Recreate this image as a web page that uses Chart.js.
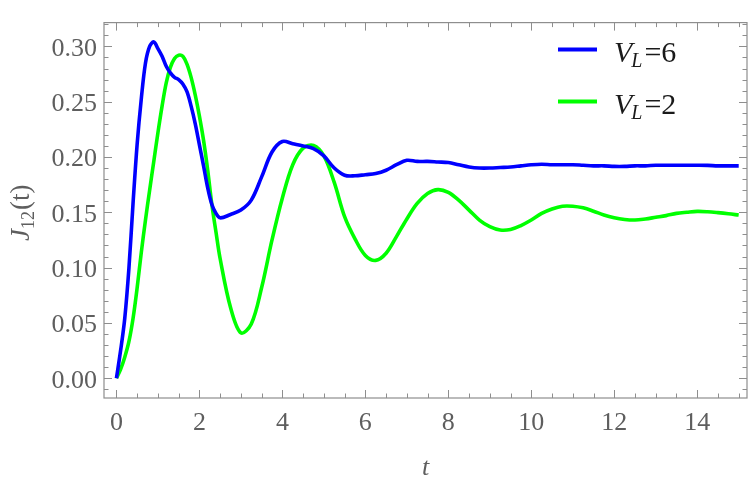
<!DOCTYPE html>
<html><head><meta charset="utf-8">
<script src="https://cdn.jsdelivr.net/npm/chart.js@4.4.0/dist/chart.umd.min.js"></script>
<style>html,body{margin:0;padding:0;background:#fff;}#wrap{width:750px;height:486px;}</style>
</head><body><div id="wrap"><canvas id="c" width="750" height="486"></canvas></div>
<script>
// time grid
const tValues = [0,0.1,0.2,0.3,0.4,0.5,0.6,0.7,0.8,0.9,1.0,1.1,1.2,1.3,1.4,1.5,1.6,1.7,1.8,1.9,2.0,2.1,2.2,2.3,2.4,2.5,
  2.75,3.0,3.25,3.5,3.75,4.0,4.25,4.5,4.75,5.0,5.25,5.5,5.75,6.0,6.25,6.5,6.75,7.0,7.25,7.5,7.75,8.0,8.25,8.5,8.75,
  9.0,9.25,9.5,9.75,10.0,10.25,10.5,10.75,11.0,11.25,11.5,11.75,12.0,12.25,12.5,12.75,13.0,13.25,13.5,13.75,14.0,14.25,14.5,14.75,15.0];
// J12(t) for V_L = 6
const jVL6 = [0,0.025,0.054,0.099,0.158,0.212,0.253,0.285,0.300,0.304,0.298,0.291,0.282,0.276,0.272,0.270,0.266,0.259,0.246,0.230,0.211,0.192,0.172,0.157,0.149,0.145,
  0.148,0.152,0.161,0.182,0.2045,0.214,0.212,0.210,0.2075,0.201,0.190,0.1835,0.183,0.184,0.185,0.188,0.193,0.197,0.196,0.196,0.1955,0.195,0.193,0.191,0.190,
  0.190,0.1905,0.191,0.192,0.193,0.1935,0.193,0.193,0.193,0.1925,0.192,0.192,0.1915,0.1915,0.192,0.192,0.1925,0.1925,0.1925,0.1925,0.1925,0.1924,0.192,0.192,0.192];
// J12(t) for V_L = 2
const jVL2 = [0,0.008,0.019,0.033,0.054,0.082,0.114,0.143,0.170,0.196,0.222,0.246,0.267,0.281,0.289,0.292,0.291,0.284,0.272,0.256,0.237,0.215,0.188,0.157,0.132,0.108,
  0.064,0.041,0.049,0.082,0.125,0.163,0.193,0.208,0.2105,0.201,0.177,0.146,0.126,0.111,0.1065,0.113,0.128,0.144,0.158,0.167,0.1705,0.168,0.161,0.152,0.143,
  0.137,0.134,0.1345,0.138,0.143,0.149,0.153,0.1555,0.1555,0.154,0.151,0.1475,0.145,0.1435,0.143,0.144,0.1455,0.147,0.149,0.150,0.1508,0.1505,0.1497,0.1487,0.1475];
const xTickValues = [0,2,4,6,8,10,12,14];
const yTickValues = [0,0.05,0.10,0.15,0.20,0.25,0.30];
const seriesNames = ['V_L=6','V_L=2'];

const SERIF = '"Liberation Serif","Times New Roman",serif';
const FRAME = '#8e8e8e';
const LABEL = '#5e5e5e';

const framePlugin = {
  id: 'frame',
  afterDraw(chart) {
    const {ctx, chartArea: a, scales: {x, y}} = chart;
    ctx.save();
    ctx.strokeStyle = FRAME; ctx.lineWidth = 1.2;
    ctx.strokeRect(a.left, a.top, a.right - a.left, a.bottom - a.top);
    ctx.lineWidth = 1;
    ctx.beginPath();
    for (let i = 0; i <= 30; i++) {
      const v = i * 0.5; const px = Math.round(x.getPixelForValue(v)) + 0.5;
      if (px < a.left || px > a.right) continue;
      const len = (i % 4 === 0) ? 8 : 4.5;
      ctx.moveTo(px, a.bottom); ctx.lineTo(px, a.bottom - len);
      ctx.moveTo(px, a.top); ctx.lineTo(px, a.top + len);
    }
    for (let i = -1; i <= 32; i++) {
      const v = i * 0.01; const py = Math.round(y.getPixelForValue(v)) + 0.5;
      if (py < a.top || py > a.bottom) continue;
      const len = (i % 5 === 0) ? 8 : 4.5;
      ctx.moveTo(a.left, py); ctx.lineTo(a.left + len, py);
      ctx.moveTo(a.right, py); ctx.lineTo(a.right - len, py);
    }
    ctx.stroke();

    // y axis title  J_12(t)
    ctx.fillStyle = LABEL;
    ctx.translate(29, (a.top + a.bottom) / 2 + 3);
    ctx.rotate(-Math.PI / 2);
    const fBig = 27, fSub = 18;
    ctx.font = 'italic ' + fBig + 'px ' + SERIF; const wJ = ctx.measureText('J').width;
    ctx.font = fSub + 'px ' + SERIF; const w12 = ctx.measureText('12').width;
    ctx.font = fBig + 'px ' + SERIF; const wT = ctx.measureText('(t)').width;
    let cx = -(wJ + w12 + wT) / 2;
    ctx.textBaseline = 'alphabetic';
    ctx.font = 'italic ' + fBig + 'px ' + SERIF; ctx.fillText('J', cx, 0); cx += wJ;
    ctx.font = fSub + 'px ' + SERIF; ctx.fillText('12', cx, 5); cx += w12 + 1;
    ctx.font = fBig + 'px ' + SERIF; ctx.fillText('(t)', cx, 0);
    ctx.restore();

    // legend
    ctx.save();
    chart.data.datasets.forEach((ds, i) => {
      const ly = 49.5 + i * 52;
      ctx.strokeStyle = ds.borderColor; ctx.lineWidth = 4;
      ctx.beginPath(); ctx.moveTo(558, ly); ctx.lineTo(597, ly); ctx.stroke();
      const parts = ds.label.split('=');
      const base = ly + 12;
      let tx = 614;
      ctx.fillStyle = '#1a1a1a'; ctx.textBaseline = 'alphabetic';
      ctx.font = 'italic 30px ' + SERIF; ctx.fillText(parts[0].charAt(0), tx, base); tx += ctx.measureText(parts[0].charAt(0)).width - 1;
      ctx.font = 'italic 20px ' + SERIF; ctx.fillText(parts[0].split('_')[1], tx, base + 5); tx += ctx.measureText(parts[0].split('_')[1]).width + 2;
      ctx.font = '30px ' + SERIF; ctx.fillText('=' + parts[1], tx, base);
    });
    ctx.restore();
  }
};

new Chart(document.getElementById('c'), {
  type: 'line',
  data: {
    datasets: [
      {label: seriesNames[0], data: tValues.map((t, i) => ({x: t, y: jVL6[i]})), borderColor: '#0000ff', borderWidth: 3.6, pointRadius: 0, tension: 0.35, fill: false},
      {label: seriesNames[1], data: tValues.map((t, i) => ({x: t, y: jVL2[i]})), borderColor: '#00ff00', borderWidth: 3.6, pointRadius: 0, tension: 0.35, fill: false}
    ]
  },
  options: {
    responsive: false, animation: false, devicePixelRatio: 1,
    layout: {padding: {left: 0, right: 3, top: 1, bottom: 0}},
    plugins: {legend: {display: false}, tooltip: {enabled: false}},
    scales: {
      x: {
        type: 'linear', min: -0.3, max: 15.2,
        grid: {display: false, drawTicks: false}, border: {display: false},
        afterBuildTicks: s => { s.ticks = xTickValues.map(v => ({value: v})); },
        afterFit: s => { s.height = 88; },
        ticks: {color: LABEL, font: {family: SERIF, size: 26}, padding: 10, maxRotation: 0, autoSkip: false, callback: v => String(v)},
        title: {display: true, text: 't', color: LABEL, font: {family: SERIF, size: 26, style: 'italic'}, padding: {top: 0, bottom: 2}}
      },
      y: {
        type: 'linear', min: -0.0179, max: 0.3215,
        grid: {display: false, drawTicks: false}, border: {display: false},
        afterBuildTicks: s => { s.ticks = yTickValues.map(v => ({value: v})); },
        afterFit: s => { s.width = 104; },
        ticks: {color: LABEL, font: {family: SERIF, size: 26}, padding: 7, labelOffset: 2.5, autoSkip: false, callback: v => Number(v).toFixed(2)}
      }
    }
  },
  plugins: [framePlugin]
});
</script></body></html>
